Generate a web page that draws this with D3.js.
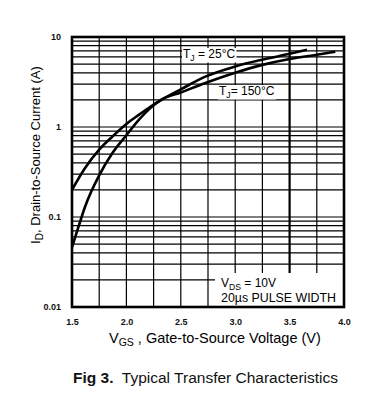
<!DOCTYPE html>
<html><head><meta charset="utf-8">
<script src="https://cdn.jsdelivr.net/npm/d3@7"></script>
<style>
html,body{margin:0;padding:0;background:#fff;}
svg{display:block;font-family:"Liberation Sans",Arial,sans-serif;}
</style></head>
<body>
<svg id="c" width="367" height="414"></svg>
<script>
// ---- data ----
const vgs25 = [1.5, 1.62, 1.75, 1.87, 2.0, 2.12, 2.22, 2.32, 2.5, 2.72, 3.0, 3.25, 3.5, 3.66];
const id25  = [0.2, 0.35, 0.56, 0.78, 1.08, 1.38, 1.68, 2.0, 2.62, 3.6, 4.7, 5.6, 6.5, 7.2];
const vgs150 = [1.5, 1.56, 1.62, 1.75, 1.87, 2.0, 2.12, 2.22, 2.32, 2.5, 2.72, 3.0, 3.25, 3.5, 3.75, 3.92];
const id150  = [0.046, 0.078, 0.13, 0.29, 0.51, 0.81, 1.22, 1.62, 2.0, 2.42, 3.06, 4.0, 4.9, 5.7, 6.35, 6.85];
const xTickValues = [1.5, 2.0, 2.5, 3.0, 3.5, 4.0];
const xTickLabels = ["1.5", "2.0", "2.5", "3.0", "3.5", "4.0"];
const xGridValues = [1.75, 2.0, 2.25, 2.5, 2.75, 3.0, 3.25, 3.5, 3.75];
const yTickValues = [0.01, 0.1, 1, 10];
const yTickLabels = ["0.01", "0.1", "1", "10"];

// ---- layout ----
const L = 72, T = 37, R = 344, B = 307;
const svg = d3.select("#c");
const x = d3.scaleLinear().domain([1.5, 4.0]).range([L, R]);
const y = d3.scaleLog().domain([0.01, 10]).range([B, T]);

// horizontal grid (log minors)
const yGridValues = y.ticks().filter(v => v > 0.01 && v < 10);
svg.append("g").selectAll("line").data(yGridValues).join("line")
  .attr("x1", L).attr("x2", R).attr("y1", d => y(d)).attr("y2", d => y(d))
  .attr("stroke", "#000").attr("stroke-width", 1.2);
// vertical grid
svg.append("g").selectAll("line").data(xGridValues).join("line")
  .attr("x1", d => x(d)).attr("x2", d => x(d)).attr("y1", T).attr("y2", B)
  .attr("stroke", "#000").attr("stroke-width", d => d === 3.5 ? 2.2 : 1.2);

function richText(g, xx, yy, parts, size) {
  const t = g.append("text").attr("x", xx).attr("y", yy)
    .attr("font-size", size).attr("fill", "#000");
  parts.forEach(p => {
    const s = t.append("tspan").text(p.t);
    if (p.sub) s.attr("font-size", size * 0.72).attr("dy", 2.5);
    if (p.up) s.attr("dy", -2.5);
  });
  return t;
}
const ann = svg.append("g");
function label(xx, yy, parts, size) {
  const g = ann.append("g");
  const r = g.append("rect").attr("fill", "#fff");
  const t = richText(g, xx, yy, parts, size);
  const bb = t.node().getBBox();
  r.attr("x", bb.x - 1).attr("y", bb.y + 1).attr("width", bb.width + 2).attr("height", bb.height - 1);
}
label(183, 58, [{t:"T"},{t:"J",sub:true},{t:" = 25°C",up:true}], 12);
label(219, 95, [{t:"T"},{t:"J",sub:true},{t:"= 150°C",up:true}], 12);

// VDS box
ann.append("rect").attr("x", 215).attr("y", 273).attr("width", R - 215).attr("height", B - 273).attr("fill", "#fff");
richText(ann, 221, 287, [{t:"V"},{t:"DS",sub:true},{t:" = 10V",up:true}], 12);
ann.append("text").attr("x", 221).attr("y", 302).attr("font-size", 12).attr("textLength", 115)
  .attr("lengthAdjust", "spacingAndGlyphs").text("20µs PULSE WIDTH");

// curves
const line = d3.line().x(d => x(d[0])).y(d => y(d[1])).curve(d3.curveMonotoneX);
svg.append("path").datum(vgs25.map((v, i) => [v, id25[i]]))
  .attr("d", line).attr("fill", "none").attr("stroke", "#000").attr("stroke-width", 2.6);
svg.append("path").datum(vgs150.map((v, i) => [v, id150[i]]))
  .attr("d", line).attr("fill", "none").attr("stroke", "#000").attr("stroke-width", 2.6);

// frame
svg.append("rect").attr("x", L).attr("y", T).attr("width", R - L).attr("height", B - T)
  .attr("fill", "none").attr("stroke", "#000").attr("stroke-width", 2.6);

// axes labels
const xAxis = d3.axisBottom(x).tickValues(xTickValues).tickSize(0)
  .tickFormat((d, i) => xTickLabels[i]);
const gx = svg.append("g").attr("transform", `translate(0,${B + 9})`).call(xAxis);
gx.select(".domain").remove();
gx.selectAll("text").attr("font-size", 9).attr("font-weight", "bold").attr("fill", "#111")
  .attr("font-family", "Liberation Sans, Arial, sans-serif");

const yAxis = d3.axisLeft(y).tickValues(yTickValues).tickSize(0)
  .tickFormat((d, i) => yTickLabels[i]);
const gy = svg.append("g").attr("transform", `translate(${L - 8},0)`).call(yAxis);
gy.select(".domain").remove();
gy.selectAll("text").attr("font-size", 9).attr("font-weight", "bold").attr("fill", "#111")
  .attr("font-family", "Liberation Sans, Arial, sans-serif");

// axis titles
const xt = svg.append("text").attr("x", 109).attr("y", 343).attr("font-size", 14.5).attr("fill", "#000");
xt.append("tspan").text("V");
xt.append("tspan").text("GS").attr("font-size", 10.5).attr("dy", 3);
xt.append("tspan").text(" , Gate-to-Source Voltage (V)").attr("dy", -3);

const yt = svg.append("text").attr("transform", "translate(40,155) rotate(-90)")
  .attr("text-anchor", "middle").attr("font-size", 13).attr("fill", "#000");
yt.append("tspan").text("I");
yt.append("tspan").text("D").attr("font-size", 10).attr("dy", 3);
yt.append("tspan").text(", Drain-to-Source Current (A)").attr("dy", -3);

// caption
const cap = svg.append("text").attr("x", 73).attr("y", 383).attr("font-size", 15.5).attr("fill", "#111");
cap.append("tspan").text("Fig 3.").attr("font-weight", "bold");
cap.append("tspan").text("\u00a0 Typical Transfer Characteristics");
</script>
</body></html>
